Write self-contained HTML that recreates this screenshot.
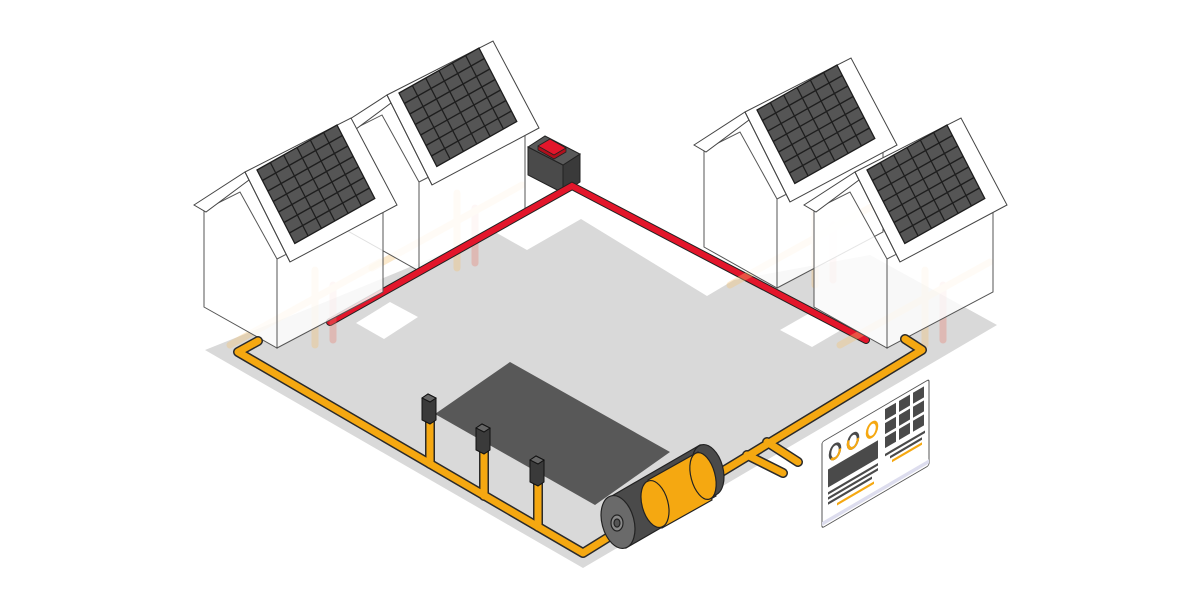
<!DOCTYPE html>
<html><head><meta charset="utf-8"><style>html,body{margin:0;padding:0;background:#fff}svg{display:block}</style></head>
<body>
<svg width="1200" height="600" viewBox="0 0 1200 600" xmlns="http://www.w3.org/2000/svg">
<defs>
<g id="panel">
 <rect x="0" y="0" width="6" height="7" fill="#555"/>
 <g stroke="#1e1e1e" stroke-width="1.3" vector-effect="non-scaling-stroke" fill="none">
  <path d="M1 0V7M2 0V7M3 0V7M4 0V7M5 0V7M0 1H6M0 2H6M0 3H6M0 4H6M0 5H6M0 6H6M0 0H6V7H0Z" vector-effect="non-scaling-stroke"/>
 </g>
</g>
<g id="house">
 <!-- faint inner pipes -->
 <g stroke-linecap="round" fill="none" opacity="0.35">
  <path d="M315 345 V270" stroke="#f5c270" stroke-width="7"/>
  <path d="M333 340 V285" stroke="#e88070" stroke-width="7"/>
  <path d="M230 345 L380 262" stroke="#f5c270" stroke-width="7"/>
 </g>
 <polygon points="277,259 383,205 383,292 277,348" fill="#fff" fill-opacity="0.82" stroke="#555" stroke-width="1"/>
 <polygon points="204,307 204,210 240,192 277,259 277,348" fill="#fff" fill-opacity="0.85" stroke="#555" stroke-width="1"/>
 <polygon points="194,205 245,172 249,180 206,212" fill="#fff" stroke="#444" stroke-width="1"/>
 <polygon points="245,172 351,118 397,205 290,262" fill="#fff" stroke="#444" stroke-width="1"/>
 <line x1="245" y1="172" x2="290" y2="262" stroke="#444" stroke-width="1"/>
 <use href="#panel" transform="matrix(13.33,-7.5,5.4,10.5,257,170)"/>
</g>
</defs>

<!-- floor -->
<polygon points="205,350 583,568 997,325 870,255 734,280 707,296 581,219 527,250 495,232 330,300" fill="#d9d9d9"/>
<polygon points="356,323 384,339 418,317 390,302" fill="#fff"/>
<polygon points="780,330 812,347 848,326 815,310" fill="#fff"/>

<!-- dark area -->
<polygon points="510,362 670,452 595,505 435,414" fill="#585858"/>

<!-- houses back -->
<use href="#house" transform="translate(142,-77)"/>

<!-- red box -->
<polygon points="528,147 563,165 563,193 528,175" fill="#4a4a4a" stroke="#222"/>
<polygon points="563,165 580,154 580,182 563,193" fill="#3a3a3a" stroke="#222"/>
<polygon points="528,147 545,136 580,154 563,165" fill="#5a5a5a" stroke="#222"/>
<polygon points="538,150 538,146 550,139 566,148 566,152 554,159" fill="#b0101c" stroke="#222" stroke-width="0.8"/>
<polygon points="538,146 550,139 566,148 554,155" fill="#e3162b" stroke="#222" stroke-width="0.8"/>

<!-- red line -->
<path d="M330,322 L572,186 L866,340" fill="none" stroke="#222" stroke-width="8" stroke-linecap="round" stroke-linejoin="miter"/>
<path d="M330,322 L572,186 L866,340" fill="none" stroke="#e3162b" stroke-width="6" stroke-linecap="round"/>

<use href="#house"/>
<use href="#house" transform="translate(500,-60)"/>
<use href="#house" transform="translate(610,0)"/>

<!-- yellow pipes -->
<g fill="none" stroke-linecap="round" stroke-linejoin="round">
 <g stroke="#2a2a2a" stroke-width="10">
  <path d="M258,341 L238,352 L583,553 L620,530"/>
  <path d="M705,482 L922,350 L905,339"/>
  <path d="M430,418 V464 M484,448 V496 M538,480 V527"/>
  <path d="M747,455 L783,473 M767,442 L798,462"/>
 </g>
 <g stroke="#f5a811" stroke-width="7">
  <path d="M258,341 L238,352 L583,553 L620,530"/>
  <path d="M705,482 L922,350 L905,339"/>
  <path d="M430,418 V464 M484,448 V496 M538,480 V527"/>
  <path d="M747,455 L783,473 M767,442 L798,462"/>
 </g>
</g>

<!-- posts -->
<g stroke="#111" stroke-width="1">
 <polygon points="422,398 428,394 436,398 436,420 430,424 422,420" fill="#3a3a3a"/>
 <polygon points="422,398 428,394 436,398 430,402" fill="#666"/>
 <polygon points="476,428 482,424 490,428 490,450 484,454 476,450" fill="#3a3a3a"/>
 <polygon points="476,428 482,424 490,428 484,432" fill="#666"/>
 <polygon points="530,460 536,456 544,460 544,482 538,486 530,482" fill="#3a3a3a"/>
 <polygon points="530,460 536,456 544,460 538,464" fill="#666"/>
</g>

<!-- tank -->
<g stroke="#222" stroke-width="1.2">
 <polygon points="610,497 700,445 716,496 626,548" fill="#4a4a4a"/>
 <ellipse cx="708" cy="470" rx="15" ry="26" transform="rotate(-15 708 470)" fill="#4a4a4a"/>
 <ellipse cx="618" cy="522" rx="16" ry="27" transform="rotate(-15 618 522)" fill="#6a6a6a"/>
 <ellipse cx="617" cy="523" rx="6" ry="8" fill="#888"/>
 <ellipse cx="617" cy="523" rx="3" ry="4" fill="#555"/>
 <polygon points="648,480 698,452 712,500 662,528" fill="#f5a811"/>
 <ellipse cx="703" cy="476" rx="12" ry="24" transform="rotate(-15 703 476)" fill="#f5a811"/>
 <ellipse cx="655" cy="504" rx="13" ry="24" transform="rotate(-15 655 504)" fill="#f5a811"/>
</g>

<!-- dashboard -->
<g transform="matrix(1,-0.585,0,1,822,442)">
 <rect x="0" y="0" width="107" height="86" rx="2" fill="#fff" stroke="#555" stroke-width="1"/>
 <rect x="0" y="80" width="107" height="4" fill="#dde"/>
 <g fill="none" stroke-width="2.5">
  <ellipse cx="13" cy="17" rx="5" ry="7" stroke="#4a4a4a"/>
  <ellipse cx="13" cy="17" rx="5" ry="7" stroke="#f5a811" stroke-dasharray="14 40"/>
  <ellipse cx="31" cy="17" rx="5" ry="7" stroke="#4a4a4a"/>
  <ellipse cx="31" cy="17" rx="5" ry="7" stroke="#f5a811" stroke-dasharray="22 40"/>
  <ellipse cx="50" cy="17" rx="5" ry="7" stroke="#f5a811"/>
 </g>
 <rect x="6" y="31" width="50" height="18" fill="#4a4a4a"/>
 <g stroke="#4a4a4a" stroke-width="2.5">
  <line x1="6" y1="55" x2="56" y2="55"/><line x1="6" y1="60" x2="56" y2="60"/><line x1="6" y1="65" x2="50" y2="65"/>
  <line x1="63" y1="50" x2="103" y2="50"/><line x1="68" y1="55" x2="100" y2="55"/>
 </g>
 <line x1="15" y1="71" x2="52" y2="71" stroke="#f5a811" stroke-width="2.5"/>
 <line x1="70" y1="60" x2="100" y2="60" stroke="#f5a811" stroke-width="2.5"/>
 <g fill="#4a4a4a">
  <rect x="63" y="4" width="11" height="11"/><rect x="77" y="4" width="11" height="11"/><rect x="91" y="4" width="11" height="11"/>
  <rect x="63" y="18" width="11" height="11"/><rect x="77" y="18" width="11" height="11"/><rect x="91" y="18" width="11" height="11"/>
  <rect x="63" y="32" width="11" height="11"/><rect x="77" y="32" width="11" height="11"/><rect x="91" y="32" width="11" height="11"/>
 </g>
</g>
</svg>
</body></html>
